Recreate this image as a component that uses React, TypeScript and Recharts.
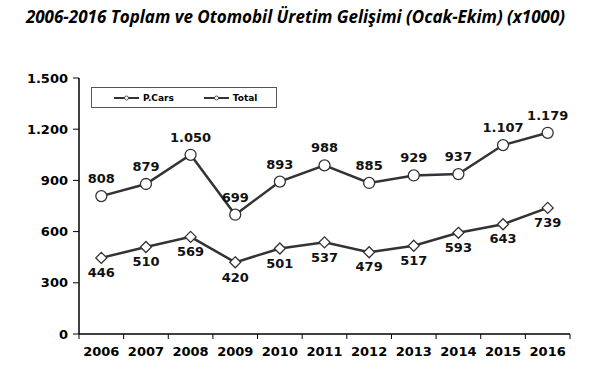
import { LineChart, Line, XAxis, YAxis, LabelList } from 'recharts'

const years = ['2006', '2007', '2008', '2009', '2010', '2011', '2012', '2013', '2014', '2015', '2016']
const pCars = [446, 510, 569, 420, 501, 537, 479, 517, 593, 643, 739]
const total = [808, 879, 1050, 699, 893, 988, 885, 929, 937, 1107, 1179]
const yTicks = [0, 300, 600, 900, 1200, 1500]

const data = years.map((year, i) => ({ year, pCars: pCars[i], total: total[i] }))

const W = 591
const H = 378
const PLOT_LEFT = 79
const PLOT_RIGHT = 570
const BAND = (PLOT_RIGHT - PLOT_LEFT) / years.length
const INK = '#333333'
const FONT = '"DejaVu Sans", Verdana, sans-serif'

const fmt = (v: any) => String(v).replace(/\B(?=(\d{3})+(?!\d))/g, '.')

const Diamond = ({ cx, cy }: any) => {
  if (cx == null || cy == null) return null
  const s = 5.5
  return (
    <polygon
      points={`${cx},${cy - s} ${cx + s},${cy} ${cx},${cy + s} ${cx - s},${cy}`}
      fill="#fff"
      stroke={INK}
      strokeWidth={1.3}
    />
  )
}

const Ring = ({ cx, cy }: any) => {
  if (cx == null || cy == null) return null
  return <circle cx={cx} cy={cy} r={5.5} fill="#fff" stroke={INK} strokeWidth={1.3} />
}

// year label centred in its band, tick marks on the band edges
const YearTick = ({ x, y, payload, index }: any) => (
  <g>
    {index === 0 && <line x1={x - BAND / 2} x2={x - BAND / 2} y1={y - 8} y2={y - 3} stroke="#000" />}
    <line x1={x + BAND / 2} x2={x + BAND / 2} y1={y - 8} y2={y - 3} stroke="#000" />
    <text x={x} y={y + 14} textAnchor="middle" fontFamily={FONT} fontWeight="bold" fontSize={13} fill="#000">
      {payload.value}
    </text>
  </g>
)

const LegendBox = () => (
  <div
    style={{
      position: 'absolute',
      left: 91,
      top: 87,
      width: 186,
      height: 21,
      border: '1px solid #555',
      background: '#fff',
      display: 'flex',
      alignItems: 'center',
      fontFamily: FONT,
      fontWeight: 'bold',
      fontSize: 9,
      color: '#000',
      boxSizing: 'border-box',
    }}
  >
    {[['P.Cars', 22], ['Total', 30]].map(([name, gap]) => (
      <span key={name} style={{ display: 'flex', alignItems: 'center', marginLeft: gap as number }}>
        <svg width={25} height={8} style={{ marginRight: 4 }}>
          <line x1={0} x2={25} y1={4} y2={4} stroke={INK} strokeWidth={2} />
          <circle cx={12.5} cy={4} r={2} fill="#fff" stroke={INK} strokeWidth={0.8} />
        </svg>
        {name}
      </span>
    ))}
  </div>
)

export default function App() {
  return (
    <div style={{ position: 'absolute', left: 0, top: 0, width: W, height: H, background: '#fff' }}>
      <div
        style={{
          position: 'absolute',
          left: 0,
          top: 5,
          width: W,
          textAlign: 'center',
          fontFamily: '"Open Sans", sans-serif',
          fontWeight: 'bold',
          fontStyle: 'italic',
          fontSize: 17,
          color: '#000',
          whiteSpace: 'nowrap',
        }}
      >
        2006-2016 Toplam ve Otomobil Üretim Gelişimi (Ocak-Ekim) (x1000)
      </div>
      <LineChart width={W} height={H} data={data} margin={{ top: 78, right: W - PLOT_RIGHT, bottom: 0, left: 0 }}>
        <XAxis
          dataKey="year"
          scale="band"
          height={44}
          axisLine={{ stroke: '#000', strokeWidth: 1.5 }}
          tickLine={false}
          tick={<YearTick />}
          interval={0}
        />
        <XAxis xAxisId="top" orientation="top" dataKey="year" height={0} tick={false} tickLine={false} axisLine={{ stroke: '#222', strokeWidth: 1.2 }} />
        <YAxis
          domain={[0, 1500]}
          ticks={yTicks}
          width={PLOT_LEFT}
          interval={0}
          axisLine={{ stroke: '#000', strokeWidth: 1.5 }}
          tickLine={{ stroke: '#000' }}
          tickSize={6}
          tickMargin={5}
          tickFormatter={fmt}
          tick={{ fontFamily: FONT, fontWeight: 'bold', fontSize: 13, fill: '#000' }}
        />
        <YAxis yAxisId="right" orientation="right" width={0} tick={false} tickLine={false} axisLine={{ stroke: '#777' }} />
        <Line
          dataKey="pCars"
          name="P.Cars"
          stroke={INK}
          strokeWidth={2.5}
          dot={<Diamond />}
          activeDot={false}
          isAnimationActive={false}
        >
          <LabelList
            dataKey="pCars"
            position="bottom"
            offset={10}
            formatter={fmt}
            style={{ fontFamily: FONT, fontWeight: 'bold', fontSize: 13, fill: '#111' }}
          />
        </Line>
        <Line
          dataKey="total"
          name="Total"
          stroke={INK}
          strokeWidth={2.5}
          dot={<Ring />}
          activeDot={false}
          isAnimationActive={false}
        >
          <LabelList
            dataKey="total"
            position="top"
            offset={13}
            formatter={fmt}
            style={{ fontFamily: FONT, fontWeight: 'bold', fontSize: 13, fill: '#111' }}
          />
        </Line>
      </LineChart>
      <LegendBox />
    </div>
  )
}
